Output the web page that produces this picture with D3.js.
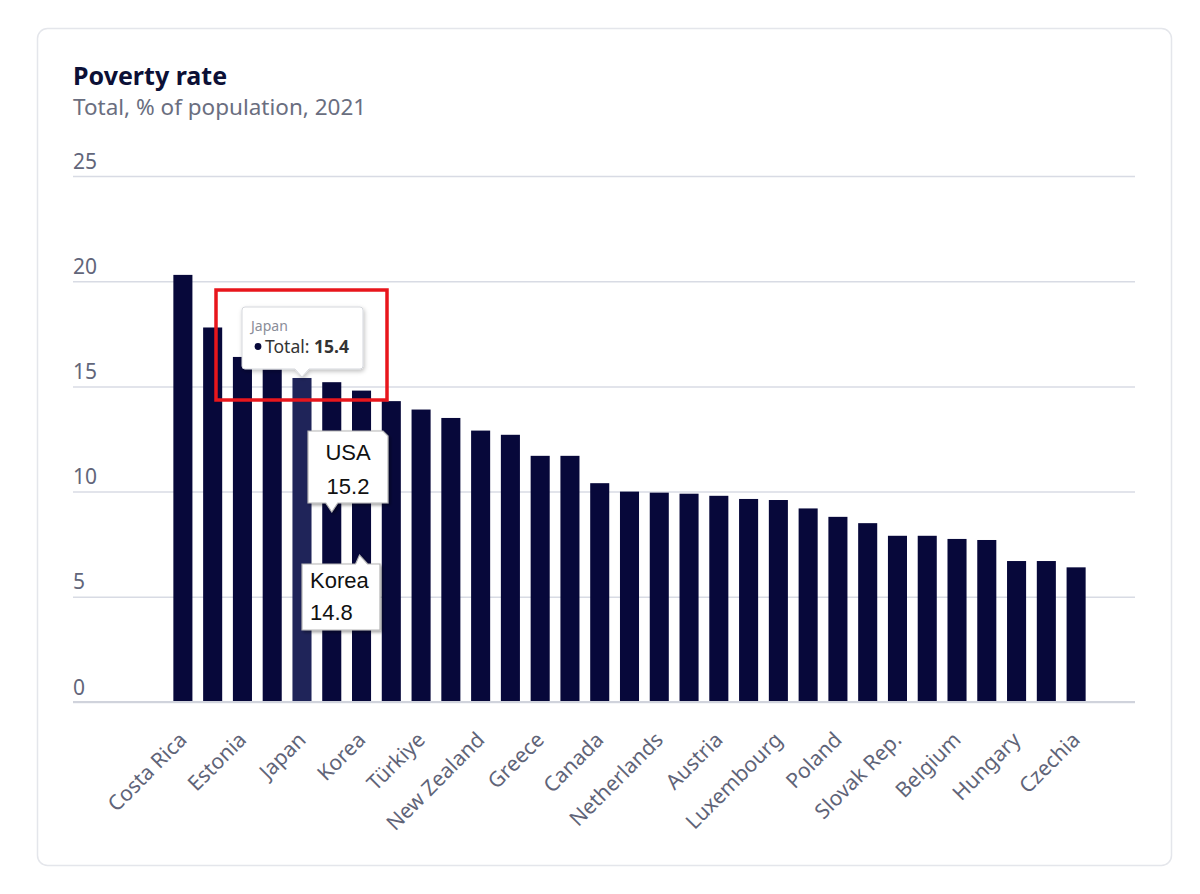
<!DOCTYPE html>
<html>
<head>
<meta charset="utf-8">
<script src="https://cdn.jsdelivr.net/npm/d3@7"></script>
<style>
  html, body { margin: 0; padding: 0; background: #ffffff; }
  svg { display: block; }
</style>
</head>
<body>
<svg id="chart" width="1200" height="894"></svg>
<script>
// ---- Data ----
const countries = [
  "Costa Rica", "Latvia", "Estonia", "Lithuania", "Japan", "United States", "Korea",
  "Spain", "Türkiye", "Italy", "New Zealand", "Australia", "Greece", "Portugal",
  "Canada", "United Kingdom", "Netherlands", "Germany", "Austria", "Switzerland",
  "Luxembourg", "France", "Poland", "Ireland", "Slovak Rep.", "Slovenia",
  "Belgium", "Norway", "Hungary", "Denmark", "Czechia"
];
const values = [
  20.3, 17.8, 16.4, 15.8, 15.4, 15.2, 14.8,
  14.3, 13.9, 13.5, 12.9, 12.7, 11.7, 11.7,
  10.4, 10.0, 9.95, 9.9, 9.8, 9.65,
  9.6, 9.2, 8.8, 8.5, 7.9, 7.9,
  7.75, 7.7, 6.7, 6.7, 6.4
];
const labelledCountries = [
  "Costa Rica", "Estonia", "Japan", "Korea", "Türkiye", "New Zealand", "Greece",
  "Canada", "Netherlands", "Austria", "Luxembourg", "Poland", "Slovak Rep.",
  "Belgium", "Hungary", "Czechia"
];
const yTicks = [0, 5, 10, 15, 20, 25];
const titleText = "Poverty rate";
const subtitleText = "Total, % of population, 2021";
const hoverCountry = "Japan";
const callouts = [
  { country: "United States", name: "USA", value: 15.2 },
  { country: "Korea", name: "Korea", value: 14.8 }
];

const data = countries.map((c, i) => ({ country: c, value: values[i] }));

// ---- Layout ----
const svg = d3.select("#chart");

const x = d3.scaleBand()
  .domain(countries)
  .range([168, 1091])
  .paddingInner(0.36)
  .paddingOuter(0.18);

const y = d3.scaleLinear().domain([0, 25]).range([702, 176]);

const font = "'Noto Sans', 'Open Sans', sans-serif";

const defs = svg.append("defs");
const sh = defs.append("filter").attr("id", "shadow").attr("x", "-20%").attr("y", "-20%").attr("width", "150%").attr("height", "150%");
sh.append("feDropShadow").attr("dx", 1).attr("dy", 2).attr("stdDeviation", 2).attr("flood-color", "#000").attr("flood-opacity", 0.25);
const sh2 = defs.append("filter").attr("id", "shadow2").attr("x", "-20%").attr("y", "-20%").attr("width", "150%").attr("height", "150%");
sh2.append("feDropShadow").attr("dx", 2).attr("dy", 2).attr("stdDeviation", 1.5).attr("flood-color", "#000").attr("flood-opacity", 0.35);

// Card
svg.append("rect")
  .attr("x", 37.5).attr("y", 28.5).attr("width", 1134).attr("height", 837)
  .attr("rx", 10).attr("fill", "#fff").attr("stroke", "#e4e6eb").attr("stroke-width", 1.5);

// Title
svg.append("text").attr("x", 73).attr("y", 85)
  .attr("font-family", font).attr("font-size", 25).attr("font-weight", 700)
  .attr("fill", "#0c1036").text(titleText);
svg.append("text").attr("x", 73).attr("y", 115)
  .attr("font-family", font).attr("font-size", 22.5)
  .attr("fill", "#6a6e80").text(subtitleText);

// Y grid + labels
const yAxis = d3.axisLeft(y).tickValues(yTicks).tickSize(-(1135 - 73)).tickFormat(d3.format("d"));
const gy = svg.append("g").attr("transform", "translate(73,0)").call(yAxis);
gy.select(".domain").remove();
gy.selectAll(".tick line").attr("stroke", "#d8dbe4").attr("stroke-width", 1.5);
gy.selectAll(".tick text")
  .attr("x", 0).attr("dy", -8).attr("text-anchor", "start")
  .attr("font-family", font).attr("font-size", 21).attr("fill", "#62667a");

// Bars
svg.append("g").selectAll("rect").data(data).join("rect")
  .attr("x", d => x(d.country))
  .attr("y", d => y(d.value))
  .attr("width", x.bandwidth())
  .attr("height", d => y(0) - y(d.value))
  .attr("fill", d => d.country === hoverCountry ? "#1f2459" : "#07083a");

// Baseline
svg.append("line").attr("x1", 73).attr("x2", 1135).attr("y1", y(0)).attr("y2", y(0))
  .attr("stroke", "#d0d3dc").attr("stroke-width", 2);

// X labels (every other)
const xAxis = d3.axisBottom(x).tickValues(labelledCountries).tickSize(0);
const gx = svg.append("g").attr("transform", `translate(0,${y(0)})`).call(xAxis);
gx.select(".domain").remove();
gx.selectAll(".tick text")
  .attr("font-family", font).attr("font-size", 21).attr("fill", "#5f6478")
  .attr("text-anchor", "end")
  .attr("transform", "translate(0,34) rotate(-45)")
  .attr("x", 0).attr("y", 0).attr("dy", "0.35em");

// Japan tooltip
const jx = x(hoverCountry) + x.bandwidth() / 2;
const jy = y(values[countries.indexOf(hoverCountry)]);
const tip = svg.append("g");
const tL = 242, tR = 363, tT = 307, tB = 369;
tip.append("path")
  .attr("d", `M${tL + 3},${tT} H${tR - 3} Q${tR},${tT} ${tR},${tT + 3} V${tB - 3} Q${tR},${tB} ${tR - 3},${tB} H${jx + 7} L${jx},${jy - 1} L${jx - 7},${tB} H${tL + 3} Q${tL},${tB} ${tL},${tB - 3} V${tT + 3} Q${tL},${tT} ${tL + 3},${tT} Z`)
  .attr("fill", "#fff").attr("stroke", "#d5d7dc").attr("stroke-width", 1)
  .attr("filter", "url(#shadow)");
tip.append("text").attr("x", 251).attr("y", 331)
  .attr("font-family", font).attr("font-size", 14).attr("fill", "#8a8d98").text(hoverCountry);
tip.append("circle").attr("cx", 258).attr("cy", 346.5).attr("r", 3.4).attr("fill", "#07083a");
const tt = tip.append("text").attr("x", 265).attr("y", 352.5)
  .attr("font-family", font).attr("font-size", 17.5).attr("fill", "#333");
tt.append("tspan").text("Total: ");
tt.append("tspan").attr("font-weight", 700).text(d3.format(".1f")(values[countries.indexOf(hoverCountry)]));

// Red highlight box
svg.append("rect").attr("x", 216).attr("y", 290).attr("width", 171).attr("height", 110)
  .attr("fill", "none").attr("stroke", "#e8161c").attr("stroke-width", 3.5);

// Callouts
const cfont = "'Liberation Sans', Arial, sans-serif";
// USA (pointer down)
{
  const c = callouts[0];
  const px = x(c.country) + x.bandwidth() / 2;
  const L = 308, R = 388, T = 431, B = 503;
  const g = svg.append("g");
  g.append("path")
    .attr("d", `M${L},${T} H${R - 5} L${R},${T + 5} V${B} H${px + 6} L${px},${B + 9} L${px - 6},${B} H${L} Z`)
    .attr("fill", "#fff").attr("stroke", "#b5b5b5").attr("stroke-width", 1.2)
    .attr("filter", "url(#shadow2)");
  g.append("text").attr("x", (L + R) / 2).attr("y", 460).attr("text-anchor", "middle")
    .attr("font-family", cfont).attr("font-size", 22).attr("fill", "#111").text(c.name);
  g.append("text").attr("x", (L + R) / 2).attr("y", 494).attr("text-anchor", "middle")
    .attr("font-family", cfont).attr("font-size", 22).attr("fill", "#111").text(d3.format(".1f")(c.value));
}
// Korea (pointer up)
{
  const c = callouts[1];
  const px = x(c.country) + x.bandwidth() / 2;
  const L = 302, R = 380, T = 564, B = 630;
  const g = svg.append("g");
  g.append("path")
    .attr("d", `M${L},${T} H${px - 6} L${px - 2},${T - 9} L${px + 6},${T} H${R} V${B} H${L} Z`)
    .attr("fill", "#fff").attr("stroke", "#b5b5b5").attr("stroke-width", 1.2)
    .attr("filter", "url(#shadow2)");
  g.append("text").attr("x", 310).attr("y", 588)
    .attr("font-family", cfont).attr("font-size", 22).attr("fill", "#111").text(c.name);
  g.append("text").attr("x", 310).attr("y", 620)
    .attr("font-family", cfont).attr("font-size", 22).attr("fill", "#111").text(d3.format(".1f")(c.value));
}
</script>
</body>
</html>
